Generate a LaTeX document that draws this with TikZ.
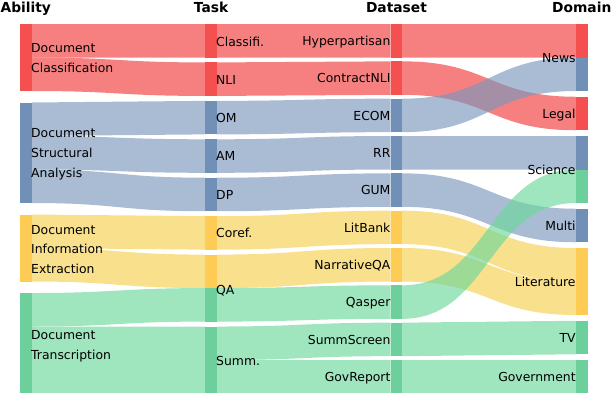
\documentclass[tikz,border=0pt]{standalone}
\usepackage{fontspec}
\setmainfont{DejaVu Sans}
\usetikzlibrary{calc}
\definecolor{redB}{RGB}{244,80,80}
\definecolor{blueB}{RGB}{112,144,184}
\definecolor{yelB}{RGB}{254,204,85}
\definecolor{grnB}{RGB}{108,207,156}
\definecolor{redF}{RGB}{241,60,60}
\definecolor{blueF}{RGB}{123,152,189}
\definecolor{yelF}{RGB}{244,207,78}
\definecolor{grnF}{RGB}{107,216,155}
\def\bandw{33.5}
\newcommand\band[5]{%
  \path (#1.north east) ++(0,#2) coordinate (s1) ++(0,\bandw) coordinate (s2);
  \path (#3.north west) ++(0,#4) coordinate (t1) ++(0,\bandw) coordinate (t2);
  \path ($(s1)!0.5!(t1)$) coordinate (mm);
  \fill[flow=#5] (s1) .. controls (mm |- s1) and (mm |- t1) .. (t1) -- (t2)
     .. controls (mm |- t2) and (mm |- s2) .. (s2) -- cycle;
}
\newcommand\barfill[2]{\fill[#2B] (#1.north west) rectangle (#1.south east);}
\newcommand\segfill[3]{\fill[#3B] (#1.north west) ++(0,#2) rectangle ++(11.5,\bandw);}
\begin{document}
\begin{tikzpicture}[x=1pt,y=-1pt,
  flow/.style={fill=#1F, fill opacity=0.65},
  bar/.style={rectangle, inner sep=0pt, outer sep=0pt, minimum width=11.5pt, anchor=north west},
  one/.style={bar, minimum height=33.5pt},
  two/.style={bar, minimum height=67pt},
  three/.style={bar, minimum height=100.5pt},
  lbl/.style={inner sep=0pt, font=\fontsize{12.4}{20}\selectfont},
  lw/.style={lbl, anchor=base west},
  le/.style={lbl, anchor=base east},
  hdr/.style={inner sep=0pt, anchor=base, font=\bfseries\fontsize{13.8}{16}\selectfont}]
\useasboundingbox (0,0) rectangle (612,392);
\clip (0,0) rectangle (612,392);
% Ability bars
\node[two]   (DC)  at (20,24) {};
\node[three] (DSA) at (20,102.5) {};
\node[two]   (DIE) at (20,214.5) {};
\node[three] (DT)  at (20,293) {};
% Task bars
\node[one] (Cl)  at (205.3,24) {};
\node[one] (NLI) at (205.3,62.43) {};
\node[one] (OM)  at (205.3,100.86) {};
\node[one] (AM)  at (205.3,139.29) {};
\node[one] (DP)  at (205.3,177.72) {};
\node[one] (Co)  at (205.3,216.15) {};
\node[two] (QA)  at (205.3,254.58) {};
\node[two] (Su)  at (205.3,326.51) {};
% Dataset bars
\node[one] (Hy) at (390.7,24) {};
\node[one] (CN) at (390.7,61.33) {};
\node[one] (EC) at (390.7,98.67) {};
\node[one] (RR) at (390.7,136) {};
\node[one] (GU) at (390.7,173.33) {};
\node[one] (LB) at (390.7,210.67) {};
\node[one] (NQ) at (390.7,248) {};
\node[one] (QS) at (390.7,285.33) {};
\node[one] (SS) at (390.7,322.67) {};
\node[one] (GR) at (390.7,360) {};
% Domain bars
\node[two] (News)  at (576,24) {};
\node[one] (Legal) at (576,96.75) {};
\node[two] (Sci)   at (576,136) {};
\node[one] (Multi) at (576,208.75) {};
\node[two] (Lit)   at (576,248) {};
\node[one] (TV)    at (576,320.75) {};
\node[one] (Gov)   at (576,360) {};
% Ability -> Task
\band{DC}{0}{Cl}{0}{red}
\band{DC}{33.5}{NLI}{0}{red}
\band{DSA}{0}{OM}{0}{blue}
\band{DSA}{33.5}{AM}{0}{blue}
\band{DSA}{67}{DP}{0}{blue}
\band{DIE}{0}{Co}{0}{yel}
\band{DIE}{33.5}{QA}{0}{yel}
\band{DT}{0}{QA}{33.5}{grn}
\band{DT}{33.5}{Su}{0}{grn}
\band{DT}{67}{Su}{33.5}{grn}
% Task -> Dataset
\band{Cl}{0}{Hy}{0}{red}
\band{NLI}{0}{CN}{0}{red}
\band{OM}{0}{EC}{0}{blue}
\band{AM}{0}{RR}{0}{blue}
\band{DP}{0}{GU}{0}{blue}
\band{Co}{0}{LB}{0}{yel}
\band{QA}{0}{NQ}{0}{yel}
\band{QA}{33.5}{QS}{0}{grn}
\band{Su}{0}{SS}{0}{grn}
\band{Su}{33.5}{GR}{0}{grn}
% Dataset -> Domain
\band{Hy}{0}{News}{0}{red}
\band{CN}{0}{Legal}{0}{red}
\band{EC}{0}{News}{33.5}{blue}
\band{RR}{0}{Sci}{0}{blue}
\band{GU}{0}{Multi}{0}{blue}
\band{LB}{0}{Lit}{0}{yel}
\band{NQ}{0}{Lit}{33.5}{yel}
\band{QS}{0}{Sci}{33.5}{grn}
\band{SS}{0}{TV}{0}{grn}
\band{GR}{0}{Gov}{0}{grn}
% bar fills
\barfill{DC}{red}\barfill{DSA}{blue}\barfill{DIE}{yel}\barfill{DT}{grn}
\barfill{Cl}{red}\barfill{NLI}{red}\barfill{OM}{blue}\barfill{AM}{blue}
\barfill{DP}{blue}\barfill{Co}{yel}\barfill{QA}{yel}\barfill{Su}{grn}
\segfill{QA}{33.5}{grn}
\barfill{Hy}{red}\barfill{CN}{red}\barfill{EC}{blue}\barfill{RR}{blue}
\barfill{GU}{blue}\barfill{LB}{yel}\barfill{NQ}{yel}\barfill{QS}{grn}
\barfill{SS}{grn}\barfill{GR}{grn}
\barfill{News}{red}\segfill{News}{33.5}{blue}
\barfill{Legal}{red}
\barfill{Sci}{blue}\segfill{Sci}{33.5}{grn}
\barfill{Multi}{blue}\barfill{Lit}{yel}\barfill{TV}{grn}\barfill{Gov}{grn}
% headers
\node[hdr] (hA) at (25.75,12.5) {Ability};
\node[hdr] (hT) at (211.05,12.5) {Task};
\node[hdr] (hD) at (396.45,12.5) {Dataset};
\node[hdr] (hM) at (581.75,12.5) {Domain};
% ability labels
\node[lw] (a1a) at (31,52.3) {Document};
\node[lw] (a1b) at (31,72.3) {Classification};
\node[lw] (a2a) at (31,137.5) {Document};
\node[lw] (a2b) at (31,157.3) {Structural};
\node[lw] (a2c) at (31,177.1) {Analysis};
\node[lw] (a3a) at (31,234) {Document};
\node[lw] (a3b) at (31,253.6) {Information};
\node[lw] (a3c) at (31,273.2) {Extraction};
\node[lw] (a4a) at (31,339) {Document};
\node[lw] (a4b) at (31,359) {Transcription};
% task labels
\node[lw] (tCl) at (216,46) {Classifi.};
\node[lw] (tNLI) at (216,84.3) {NLI};
\node[lw] (tOM) at (216,122.5) {OM};
\node[lw] (tAM) at (216,160.8) {AM};
\node[lw] (tDP) at (216,199.3) {DP};
\node[lw] (tCo) at (216,237.8) {Coref.};
\node[lw] (tQA) at (216,294) {QA};
\node[lw] (tSu) at (216,365.5) {Summ.};
% dataset labels
\node[le] (dHy) at (390.6,45.6) {Hyperpartisan};
\node[le] (dCN) at (390.6,82.9) {ContractNLI};
\node[le] (dEC) at (390.6,120.3) {ECOM};
\node[le] (dRR) at (390.6,157.6) {RR};
\node[le] (dGU) at (390.6,194.9) {GUM};
\node[le] (dLB) at (390.6,232.3) {LitBank};
\node[le] (dNQ) at (390.6,269.6) {NarrativeQA};
\node[le] (dQS) at (390.6,306.9) {Qasper};
\node[le] (dSS) at (390.6,344.3) {SummScreen};
\node[le] (dGR) at (390.6,381.6) {GovReport};
% domain labels
\node[le] (mNews) at (575.8,62.3) {News};
\node[le] (mLegal) at (575.8,118.3) {Legal};
\node[le] (mSci) at (575.8,174.3) {Science};
\node[le] (mMulti) at (575.8,230.3) {Multi};
\node[le] (mLit) at (575.8,286.5) {Literature};
\node[le] (mTV) at (575.8,342.3) {TV};
\node[le] (mGov) at (575.8,381.6) {Government};
\end{tikzpicture}
\end{document}
